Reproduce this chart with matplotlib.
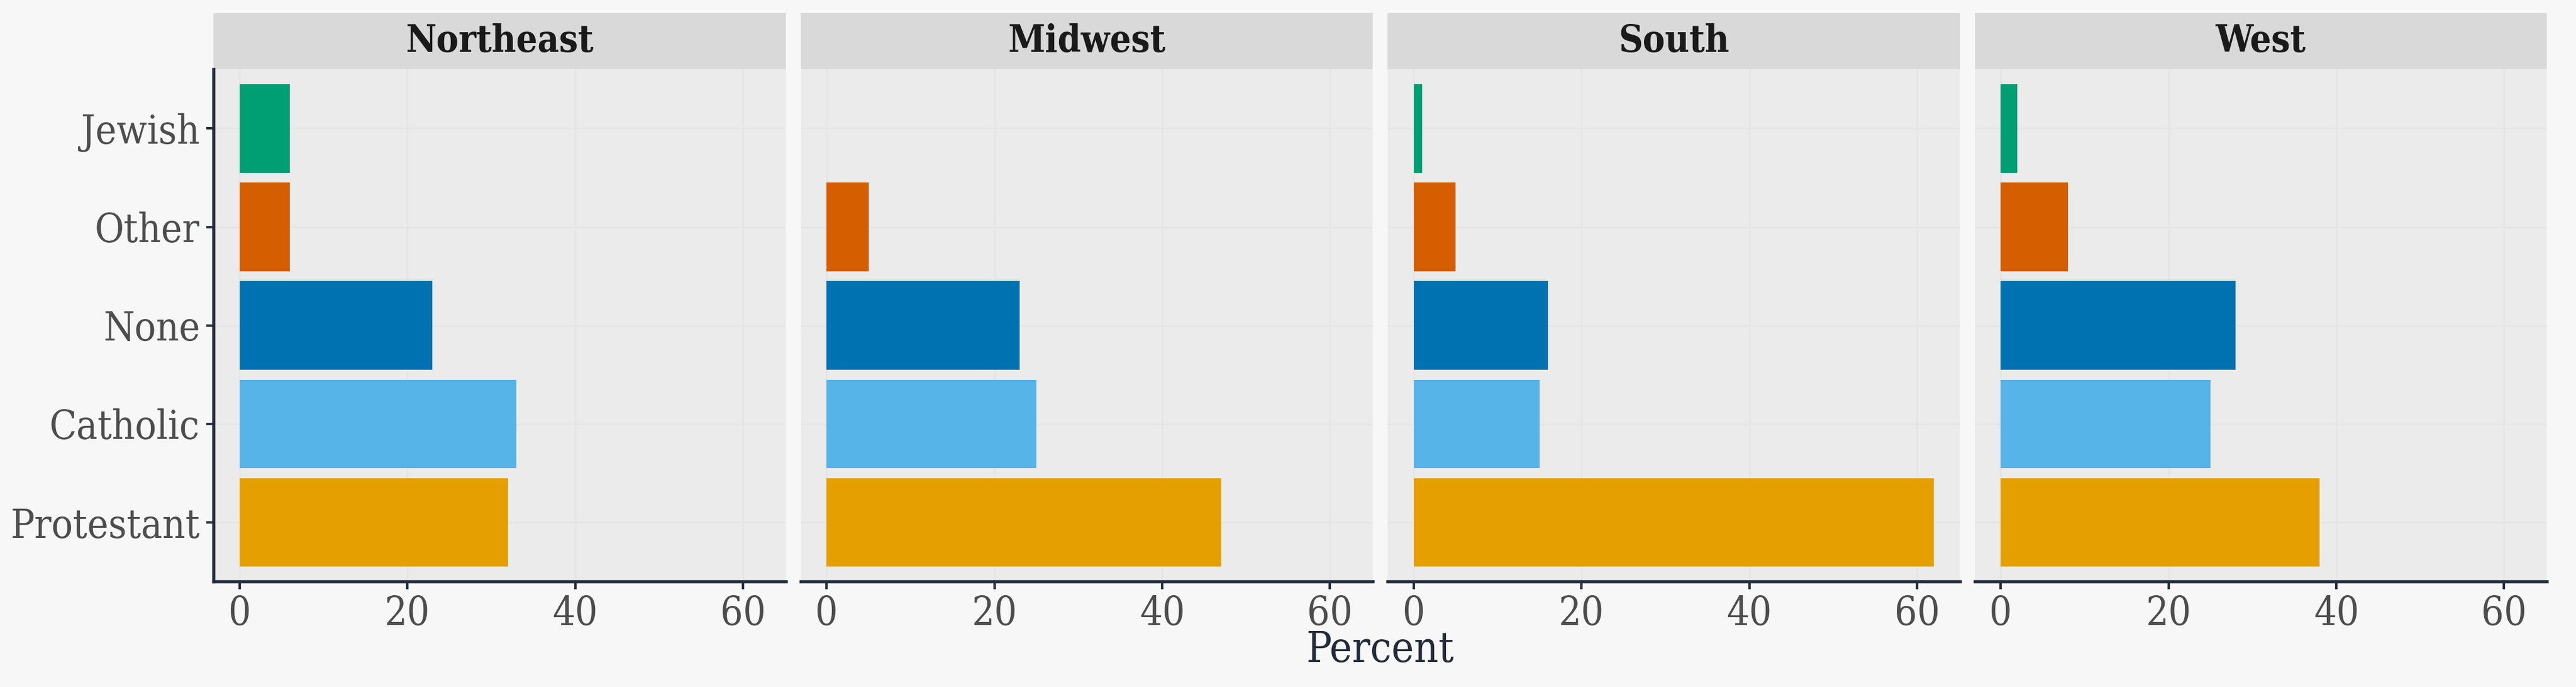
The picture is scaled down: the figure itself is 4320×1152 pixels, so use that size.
import matplotlib
matplotlib.use("Agg")
import matplotlib.pyplot as plt
from matplotlib.patches import Rectangle

plt.rcParams['font.family'] = ['DejaVu Serif']
plt.rcParams['font.stretch'] = 'condensed'

regions = ["Northeast", "Midwest", "South", "West"]
religions = ["Protestant", "Catholic", "None", "Other", "Jewish"]
colors = ["#E69F00", "#56B4E9", "#0072B2", "#D55E00", "#009E73"]

# percent by religion (same order as religions), one list per region
northeast = [32, 33, 23, 6, 6]
midwest = [47, 25, 23, 5, 0]
south = [62, 15, 16, 5, 1]
west = [38, 25, 28, 8, 2]
values = [northeast, midwest, south, west]

x_ticks = [0, 20, 40, 60]

fig, axes = plt.subplots(1, 4, figsize=(14.4, 3.84), dpi=300, sharey=True)
fig.patch.set_facecolor("#f7f7f7")
fig.subplots_adjust(left=0.0829, right=0.9887, bottom=0.1536, top=0.899, wspace=0.026)

axis_col = "#262f3f"
xmax = max(max(v) for v in values)
pad = xmax * 0.05

for i, (ax, region, vals) in enumerate(zip(axes, regions, values)):
    ax.set_facecolor("#ebebeb")
    ypos = list(range(1, len(religions) + 1))
    ax.barh(ypos, vals, height=0.9, color=colors, zorder=2)
    ax.set_xlim(-pad, xmax + pad)
    ax.set_ylim(0.4, len(religions) + 0.6)
    ax.set_xticks(x_ticks)
    ax.set_yticks(ypos)
    ax.set_yticklabels(religions)
    ax.grid(True, color="#e5e5e5", linewidth=0.7, zorder=0)
    ax.set_axisbelow(True)
    for s in ["top", "right"]:
        ax.spines[s].set_visible(False)
    ax.spines["bottom"].set_color(axis_col)
    ax.spines["bottom"].set_linewidth(1.3)
    if i == 0:
        ax.spines["left"].set_color(axis_col)
        ax.spines["left"].set_linewidth(1.3)
        ax.tick_params(axis="y", length=3, width=1.0, color=axis_col,
                       labelsize=16, labelcolor="#4d4d4d", pad=2.5)
    else:
        ax.spines["left"].set_visible(False)
        ax.tick_params(axis="y", left=False, labelleft=False)
    ax.tick_params(axis="x", length=3, width=1.0, color=axis_col,
                   labelsize=16, labelcolor="#4d4d4d", pad=2.2)

    # facet strip
    strip_h = 0.1094
    ax.add_patch(Rectangle((0, 1), 1, strip_h, transform=ax.transAxes,
                           facecolor="#d9d9d9", edgecolor="none", clip_on=False))
    ax.text(0.5, 1 + strip_h / 2, region, transform=ax.transAxes,
            ha="center", va="center", fontsize=15, fontweight="bold", color="#1a1a1a")

fig.text(0.5 * (0.0829 + 0.9887), 0.053, "Percent", ha="center", va="center",
         fontsize=17, color="#222b3a")

fig.savefig("out.png", dpi=300, facecolor=fig.get_facecolor())
